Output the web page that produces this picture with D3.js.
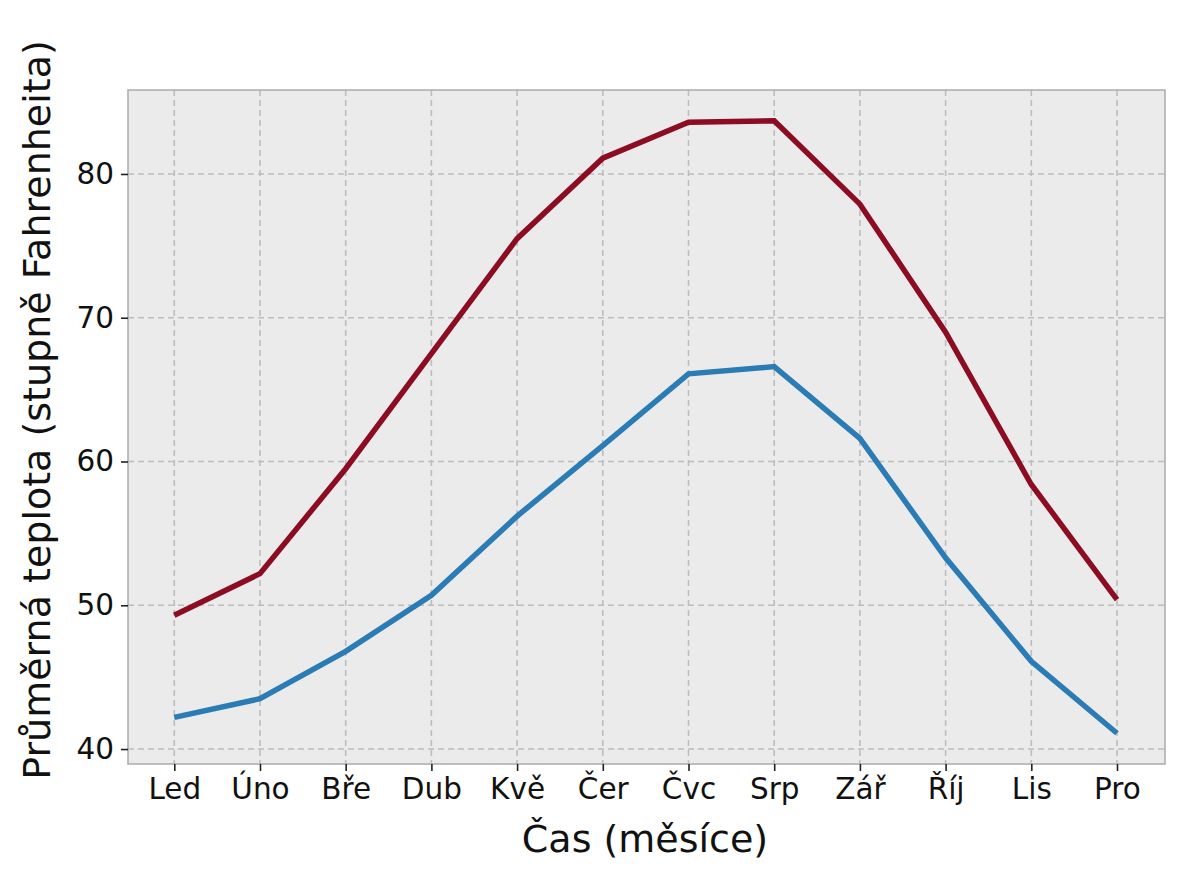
<!DOCTYPE html>
<meta charset="utf-8">
<script src="https://d3js.org/d3.v7.min.js"></script>
<style>
  body { margin: 0; background: #fff; }
  text { font-family: "DejaVu Sans", sans-serif; }
</style>
<div id="my_dataviz"></div>
<script>

// data
var months = ["Led", "Úno", "Bře", "Dub", "Kvě", "Čer", "Čvc", "Srp", "Zář", "Říj", "Lis", "Pro"];
var highTemps = [49.3, 52.2, 59.5, 67.5, 75.5, 81.1, 83.6, 83.7, 77.9, 69.0, 58.4, 50.4];
var lowTemps = [42.2, 43.5, 46.8, 50.7, 56.2, 61.1, 66.1, 66.6, 61.6, 53.3, 46.1, 41.1];
var yTicks = [40, 50, 60, 70, 80];

var W = 1185, H = 880;
var margin = {top: 90, right: 20, bottom: 116, left: 128},
    width = 1165 - margin.left,
    height = 764 - margin.top;

var svg = d3.select("#my_dataviz")
  .append("svg")
    .attr("width", W)
    .attr("height", H)
  .append("g")
    .attr("transform", "translate(" + margin.left + "," + margin.top + ")");

// x: month index, with some padding on both ends
var x = d3.scaleLinear()
  .domain([-0.54, 11.56])
  .range([0, width]);

var y = d3.scaleLinear()
  .domain([38.96, 85.84])
  .range([height, 0]);

// background
svg.append("rect")
  .attr("width", width)
  .attr("height", height)
  .attr("fill", "#ebebeb");

// grid
svg.append("g")
  .selectAll("line")
  .data(d3.range(months.length))
  .enter()
  .append("line")
    .attr("x1", function(d) { return x(d); })
    .attr("x2", function(d) { return x(d); })
    .attr("y1", 0)
    .attr("y2", height)
    .attr("stroke", "#bdbdbd")
    .attr("stroke-width", 1.6)
    .attr("stroke-dasharray", "6,4");

svg.append("g")
  .selectAll("line")
  .data(yTicks)
  .enter()
  .append("line")
    .attr("x1", 0)
    .attr("x2", width)
    .attr("y1", function(d) { return y(d); })
    .attr("y2", function(d) { return y(d); })
    .attr("stroke", "#bdbdbd")
    .attr("stroke-width", 1.6)
    .attr("stroke-dasharray", "6,4");

// lines
var line = d3.line()
  .x(function(d, i) { return x(i); })
  .y(function(d) { return y(d); });

svg.append("path")
  .datum(highTemps)
  .attr("d", line)
  .attr("fill", "none")
  .attr("stroke", "#8c0c22")
  .attr("stroke-width", 5.5);

svg.append("path")
  .datum(lowTemps)
  .attr("d", line)
  .attr("fill", "none")
  .attr("stroke", "#2b7bb4")
  .attr("stroke-width", 5.5);

// frame
svg.append("rect")
  .attr("width", width)
  .attr("height", height)
  .attr("fill", "none")
  .attr("stroke", "#b0b0b0")
  .attr("stroke-width", 1.6);

// axes
var xAxis = svg.append("g")
  .attr("transform", "translate(0," + height + ")")
  .call(d3.axisBottom(x)
    .tickValues(d3.range(months.length))
    .tickFormat(function(i) { return months[i]; })
    .tickSize(7)
    .tickPadding(7));
xAxis.select(".domain").remove();
xAxis.selectAll("line").attr("stroke", "#222").attr("stroke-width", 1.6);
xAxis.selectAll("text").attr("font-size", 29.5).attr("fill", "#111")
  .style("font-family", "DejaVu Sans");

var yAxis = svg.append("g")
  .call(d3.axisLeft(y)
    .tickValues(yTicks)
    .tickSize(7)
    .tickPadding(7));
yAxis.select(".domain").remove();
yAxis.selectAll("line").attr("stroke", "#222").attr("stroke-width", 1.6);
yAxis.selectAll("text").attr("font-size", 29.5).attr("fill", "#111")
  .style("font-family", "DejaVu Sans");

// axis labels
svg.append("text")
  .attr("transform", "rotate(-90)")
  .attr("x", -320)
  .attr("y", -78)
  .style("text-anchor", "middle")
  .attr("font-size", 38)
  .attr("fill", "#111")
  .text("Průměrná teplota (stupně Fahrenheita)");

svg.append("text")
  .attr("x", 645 - margin.left)
  .attr("y", height + 88)
  .style("text-anchor", "middle")
  .attr("font-size", 38)
  .attr("fill", "#111")
  .text("Čas (měsíce)");

</script>
